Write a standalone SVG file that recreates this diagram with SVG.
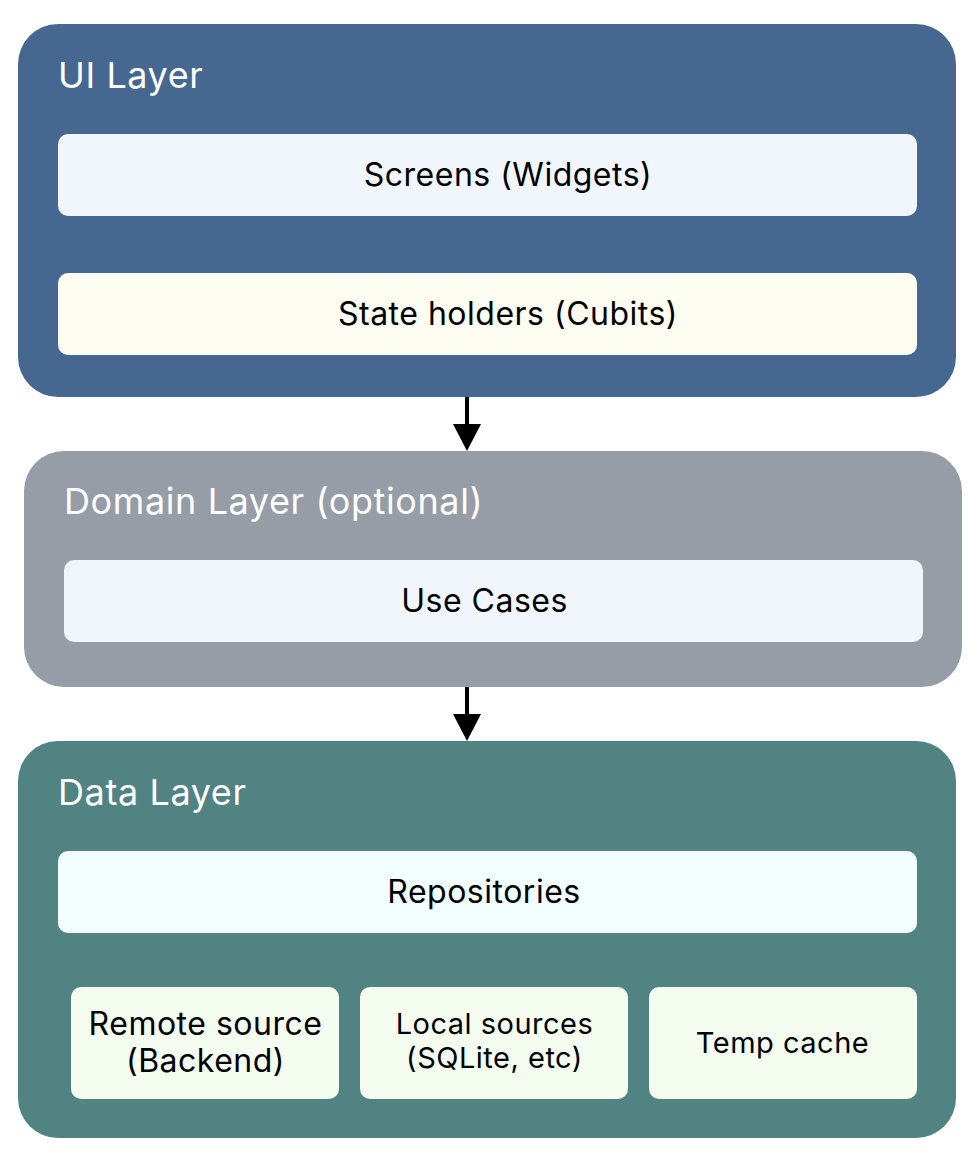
<svg xmlns="http://www.w3.org/2000/svg" width="974" height="1156" viewBox="0 0 974 1156">
<defs>
<style>
.layer-title{font-family:Inter,"Liberation Sans",sans-serif;font-size:36px;letter-spacing:0.6px;fill:#ffffff}
.lbl{font-family:Inter,"Liberation Sans",sans-serif;font-size:32px;letter-spacing:0.5px;fill:#000000;text-anchor:middle}
.lbl-s{font-family:Inter,"Liberation Sans",sans-serif;font-size:29px;letter-spacing:0.5px;fill:#000000;text-anchor:middle}
.conn{stroke:#000000;stroke-width:4;fill:none}
</style>
</defs>
<rect width="974" height="1156" fill="#ffffff"/>
<g id="ui-layer">
<rect x="18" y="24" width="938" height="373" rx="40" fill="#46678F"/>
<text class="layer-title" x="58" y="88">UI Layer</text>
</g>
<g id="screens">
<rect x="58" y="134" width="859" height="82" rx="10" fill="#F1F6FD"/>
<text class="lbl" x="508" y="186">Screens (Widgets)</text>
</g>
<g id="state-holders">
<rect x="58" y="273" width="859" height="82" rx="10" fill="#FDFEF1"/>
<text class="lbl" x="508" y="325">State holders (Cubits)</text>
</g>
<g id="domain-layer">
<rect x="24" y="451" width="938" height="236" rx="40" fill="#979DA6"/>
<text class="layer-title" x="64" y="514">Domain Layer (optional)</text>
</g>
<g id="use-cases">
<rect x="64" y="560" width="859" height="82" rx="10" fill="#F1F6FD"/>
<text class="lbl" x="484.5" y="612">Use Cases</text>
</g>
<g id="data-layer">
<rect x="18" y="741" width="938" height="397" rx="40" fill="#518383"/>
<text class="layer-title" x="58" y="805">Data Layer</text>
</g>
<g id="repositories">
<rect x="58" y="851" width="859" height="82" rx="10" fill="#F2FDFD"/>
<text class="lbl" x="484" y="903">Repositories</text>
</g>
<g id="remote-source">
<rect x="71" y="987" width="268" height="112" rx="10" fill="#F4FCF0"/>
<text class="lbl" x="205.5" y="1035">Remote source</text>
<text class="lbl" x="205.5" y="1072">(Backend)</text>
</g>
<g id="local-sources">
<rect x="360" y="987" width="268" height="112" rx="10" fill="#F4FCF0"/>
<text class="lbl-s" x="494.5" y="1034">Local sources</text>
<text class="lbl-s" x="494.5" y="1068">(SQLite, etc)</text>
</g>
<g id="temp-cache">
<rect x="649" y="987" width="268" height="112" rx="10" fill="#F4FCF0"/>
<text class="lbl-s" x="782.5" y="1053">Temp cache</text>
</g>
<g id="connectors">
<path class="conn" d="M467,397 L467,426"/>
<path d="M453,424 L481,424 L467,451 Z" fill="#000000"/>
<path class="conn" d="M467,687 L467,716"/>
<path d="M453,714 L481,714 L467,741 Z" fill="#000000"/>
</g>
</svg>
